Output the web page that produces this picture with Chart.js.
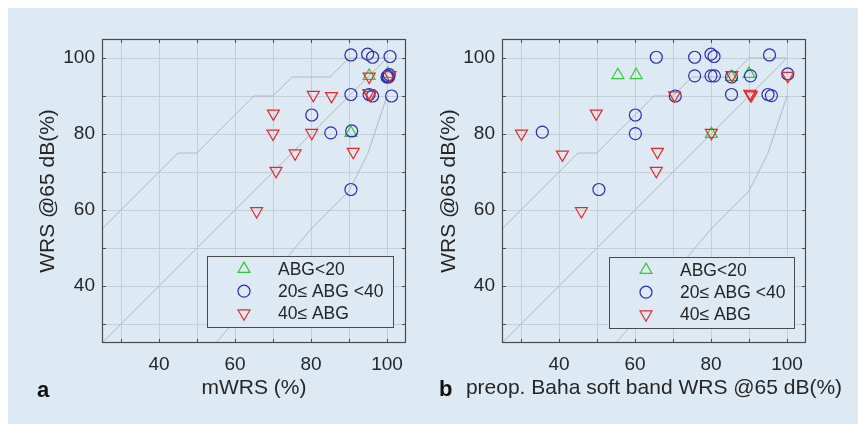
<!DOCTYPE html>
<html lang="en">
  <head>
    <meta charset="UTF-8" />
    <title>WRS @65 dB scatter</title>
    <script src="https://cdn.jsdelivr.net/npm/chart.js"></script>
    <style>
      body { margin: 0; background: #fff; }
      #wrap { position: relative; width: 858px; height: 424px; overflow: hidden; }
      #bg { position: absolute; left: 8px; top: 8px; width: 850px; height: 416px; background: #dde9f3; }
      canvas { position: absolute; top: 0; }
      #chartA { left: 0; }
      #chartB { left: 429px; }
      .tag { position: absolute; font: bold 22px "Liberation Sans", Arial, sans-serif; line-height: 22px; color: #111; }
    </style>
  </head>
  <body>
    <div id="wrap">
      <div id="bg"></div>
      <canvas id="chartA" width="429" height="424"></canvas>
      <canvas id="chartB" width="429" height="424"></canvas>
      <div class="tag" style="left: 37px; top: 379px">a</div>
      <div class="tag" style="left: 439px; top: 378px">b</div>
    </div>

    <script>
      // grid / tick values shared by both axes of both panels
      var gridValues = [30, 40, 50, 60, 70, 80, 90, 100];
      var legendLabels = ["ABG<20", "20\u2264 ABG <40", "40\u2264 ABG"];

      // reference curves (diagonal and critical-difference bounds)
      var diagX = [25, 100];
      var diagY = [25, 100];
      var upperX = [25, 45, 50, 65, 70, 75, 85, 90, 100];
      var upperY = [55, 75, 75, 90, 90, 95, 95, 100, 100];
      var lowerX = [55, 80, 90, 95, 100];
      var lowerY = [25, 55, 65, 75, 90];

      // panel a: mWRS (%) vs WRS @65 dB
      var aGreenX = [95.3, 90.5, 100.2];
      var aGreenY = [95.3, 80.3, 95.8];
      var aBlueX = [90.5, 94.9, 96.2, 100.8, 100.2, 100.6, 100.0, 100.4, 90.5, 95.3, 96.2, 101.2, 80.2, 85.2, 90.7, 90.5];
      var aBlueY = [100.8, 101.0, 100.2, 100.4, 95.3, 95.6, 95.0, 95.0, 90.4, 90.4, 90.0, 90.0, 85.0, 80.3, 80.8, 65.4];
      var aRedX = [70.1, 70.0, 70.8, 75.8, 65.7, 80.6, 85.4, 80.2, 91.1, 95.3, 95.2, 95.6, 100.8];
      var aRedY = [85.4, 80.1, 70.3, 74.9, 59.7, 90.3, 90.0, 80.3, 75.3, 95.1, 90.8, 90.3, 95.5];

      // panel b: preop. Baha soft band WRS vs WRS @65 dB
      var bGreenX = [55.5, 60.3, 80.1, 85.4, 90.0];
      var bGreenY = [95.5, 95.5, 80.0, 95.0, 95.8];
      var bBlueX = [35.6, 50.5, 60.1, 60.1, 65.6, 70.6, 75.7, 75.7, 80.0, 80.8, 80.0, 80.9, 85.4, 85.4, 90.4, 95.4, 95.0, 95.9, 100.2];
      var bBlueY = [80.5, 65.4, 85.0, 80.1, 100.2, 90.0, 100.2, 95.3, 101.0, 100.4, 95.3, 95.3, 95.0, 90.4, 95.3, 100.8, 90.4, 90.1, 95.8];
      var bRedX = [30.1, 40.9, 45.9, 49.8, 65.9, 65.6, 70.4, 80.1, 85.5, 90.4, 90.6, 90.2, 100.2];
      var bRedY = [80.1, 74.6, 59.7, 85.4, 75.3, 70.3, 90.2, 80.3, 95.5, 90.4, 90.2, 90.6, 95.3];

      var GREEN = "rgb(55,200,55)";
      var BLUE = "rgb(45,45,175)";
      var RED = "rgb(232,40,40)";
      var REF = "rgb(178,186,194)";
      var AXIS = "#4a4a4a";
      var BG = "#dde9f3";
      var FONT = '"Liberation Sans", Arial, sans-serif';

      Chart.defaults.font.family = FONT;
      Chart.defaults.color = "#262626";

      function pts(xs, ys) {
        return xs.map(function (x, i) { return { x: x, y: ys[i] }; });
      }

      function markers(data, color, style, rot, r) {
        return {
          data: data,
          pointStyle: style,
          rotation: rot,
          pointRadius: r,
          pointBorderColor: color,
          pointBackgroundColor: "rgba(0,0,0,0)",
          pointBorderWidth: 1.2,
          showLine: false,
        };
      }

      function refLine(xs, ys) {
        return {
          data: pts(xs, ys),
          showLine: true,
          pointRadius: 0,
          borderColor: REF,
          borderWidth: 1,
          fill: false,
        };
      }

      function drawMarker(ctx, kind, x, y) {
        ctx.beginPath();
        if (kind === 0) {
          var r = 6.9;
          ctx.strokeStyle = GREEN;
          ctx.moveTo(x, y - r);
          ctx.lineTo(x + r * 0.866, y + r / 2);
          ctx.lineTo(x - r * 0.866, y + r / 2);
          ctx.closePath();
        } else if (kind === 1) {
          ctx.strokeStyle = BLUE;
          ctx.arc(x, y, 6, 0, Math.PI * 2);
        } else {
          var r2 = 6.9;
          ctx.strokeStyle = RED;
          ctx.moveTo(x, y + r2);
          ctx.lineTo(x + r2 * 0.866, y - r2 / 2);
          ctx.lineTo(x - r2 * 0.866, y - r2 / 2);
          ctx.closePath();
        }
        ctx.lineWidth = 1.2;
        ctx.stroke();
      }

      // box, inward ticks, x title (may run past the plot) and the in-plot legend
      var framePlugin = {
        id: "frame",
        afterDatasetsDraw: function (chart, args, opts) {
          var ctx = chart.ctx;
          var a = chart.chartArea;
          var xs = chart.scales.x;
          var ys = chart.scales.y;
          ctx.save();
          ctx.strokeStyle = AXIS;
          ctx.lineWidth = 1;
          ctx.beginPath();
          gridValues.forEach(function (v) {
            var px = Math.round(xs.getPixelForValue(v)) + 0.5;
            var py = Math.round(ys.getPixelForValue(v)) + 0.5;
            ctx.moveTo(px, a.bottom); ctx.lineTo(px, a.bottom - 4);
            ctx.moveTo(px, a.top); ctx.lineTo(px, a.top + 4);
            ctx.moveTo(a.left, py); ctx.lineTo(a.left + 4, py);
            ctx.moveTo(a.right, py); ctx.lineTo(a.right - 4, py);
          });
          ctx.stroke();
          ctx.lineWidth = 1.2;
          ctx.strokeRect(a.left + 0.5, a.top + 0.5, a.right - a.left - 1, a.bottom - a.top - 1);

          ctx.fillStyle = "#262626";
          ctx.font = "21px " + FONT;
          ctx.textAlign = "center";
          ctx.textBaseline = "middle";
          ctx.fillText(opts.xTitle, (a.left + a.right) / 2, 388);

          var b = opts.box;
          ctx.fillStyle = BG;
          ctx.fillRect(b[0], b[1], b[2], b[3]);
          ctx.strokeStyle = AXIS;
          ctx.lineWidth = 1;
          ctx.strokeRect(b[0] + 0.5, b[1] + 0.5, b[2], b[3]);
          ctx.font = "17.5px " + FONT;
          ctx.textBaseline = "middle";
          ctx.textAlign = "left";
          legendLabels.forEach(function (t, i) {
            var y = b[1] + 13 + i * 22.2;
            drawMarker(ctx, i, b[0] + 37, y);
            ctx.fillStyle = "#262626";
            ctx.fillText(t, b[0] + 71, y + 1);
          });
          ctx.restore();
        },
      };

      function makeChart(id, green, blue, red, xTitle, pad, yWidth, yTitlePad, legendBox) {
        var ctx = document.getElementById(id).getContext("2d");
        return new Chart(ctx, {
          type: "scatter",
          data: {
            datasets: [
              markers(red, RED, "triangle", 180, 6.9),
              markers(blue, BLUE, "circle", 0, 6),
              markers(green, GREEN, "triangle", 0, 6.9),
              refLine(diagX, diagY),
              refLine(upperX, upperY),
              refLine(lowerX, lowerY),
            ],
          },
          options: {
            responsive: false,
            animation: false,
            events: [],
            layout: { padding: pad },
            plugins: {
              legend: { display: false },
              tooltip: { enabled: false },
              frame: { box: legendBox, xTitle: xTitle },
            },
            scales: {
              x: {
                type: "linear",
                min: 25,
                max: 105,
                afterBuildTicks: function (s) {
                  s.ticks = gridValues.map(function (v) { return { value: v }; });
                },
                afterFit: function (s) { s.height = 424 - pad.bottom - 343; },
                grid: { color: "rgb(196,207,218)", drawTicks: false },
                border: { display: false },
                ticks: {
                  padding: 10,
                  font: { size: 19 },
                  maxRotation: 0,
                  callback: function (v) { return v % 20 === 0 && v >= 40 ? v : ""; },
                },
                title: { display: false },
              },
              y: {
                type: "linear",
                min: 25,
                max: 105,
                afterBuildTicks: function (s) {
                  s.ticks = gridValues.map(function (v) { return { value: v }; });
                },
                afterFit: function (s) { s.width = yWidth; },
                grid: { color: "rgb(196,207,218)", drawTicks: false },
                border: { display: false },
                ticks: {
                  padding: 7,
                  font: { size: 19 },
                  callback: function (v) { return v % 20 === 0 && v >= 40 ? v : ""; },
                },
                title: { display: true, text: "WRS @65 dB(%)", font: { size: 21 }, padding: { top: yTitlePad, bottom: 0 } },
              },
            },
          },
          plugins: [framePlugin],
        });
      }

      makeChart(
        "chartA",
        pts(aGreenX, aGreenY),
        pts(aBlueX, aBlueY),
        pts(aRedX, aRedY),
        "mWRS (%)",
        { top: 39, right: 23, bottom: 20, left: 30 },
        72,
        6,
        [207, 256, 186, 71]
      );

      makeChart(
        "chartB",
        pts(bGreenX, bGreenY),
        pts(bBlueX, bBlueY),
        pts(bRedX, bRedY),
        "preop. Baha soft band WRS @65 dB(%)",
        { top: 39, right: 52, bottom: 20, left: 2 },
        71,
        6,
        [180, 257, 185, 71]
      );
    </script>
  </body>
</html>
